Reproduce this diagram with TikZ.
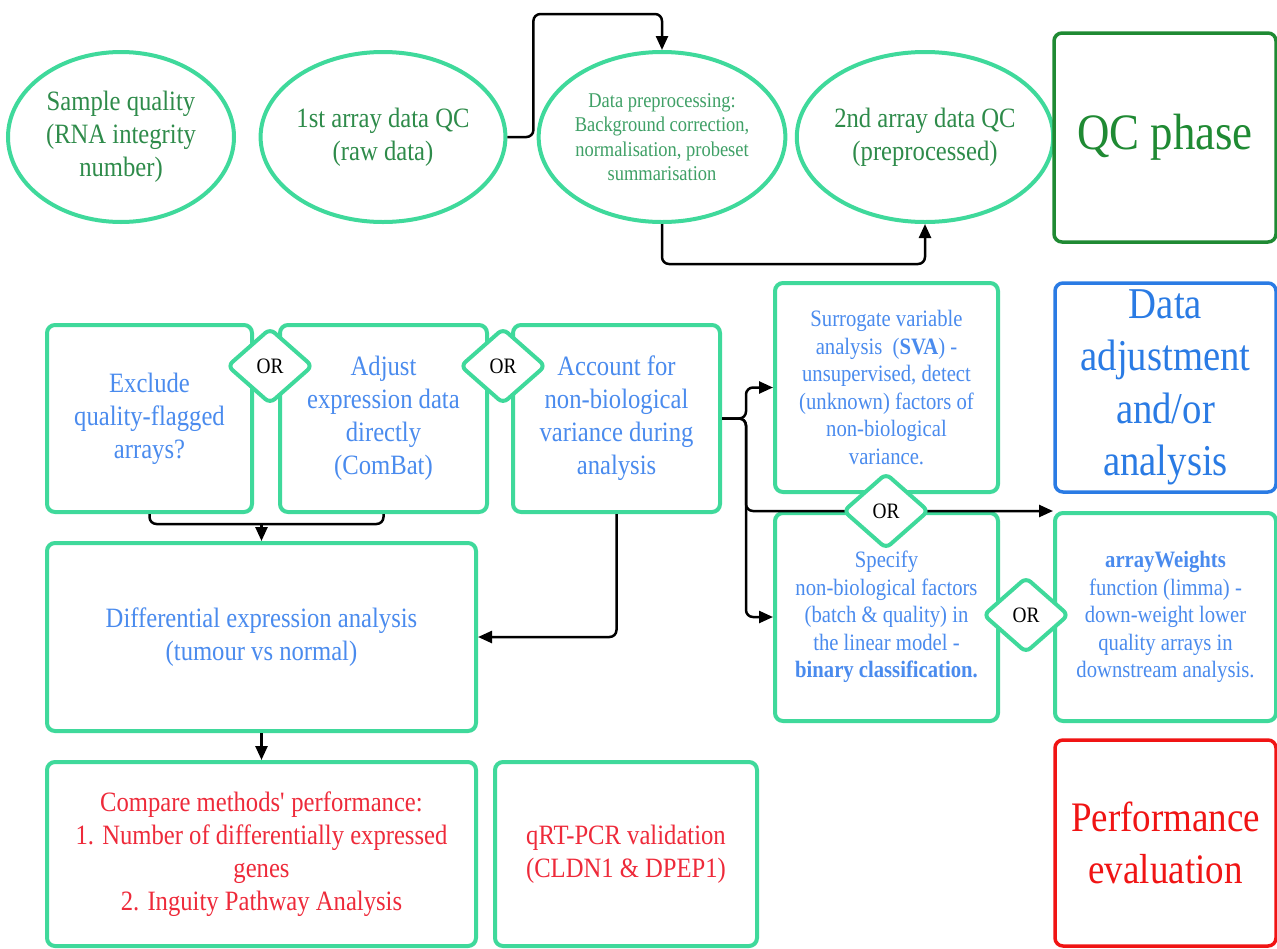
\documentclass[tikz,border=0pt]{standalone}
\usepackage{fontspec}
\setmainfont[FakeStretch=0.88]{Liberation Serif}
\usetikzlibrary{shapes.geometric,arrows.meta}
\definecolor{mint}{HTML}{3FD99B}
\definecolor{egreen}{HTML}{2E8B4A}
\definecolor{lgreen}{HTML}{3FA066}
\definecolor{qcgreen}{HTML}{1F8A33}
\definecolor{tblue}{HTML}{4A8BEE}
\definecolor{dblue}{HTML}{2A7BE4}
\definecolor{tred}{HTML}{EE2A3A}
\definecolor{pred}{HTML}{F01414}
\newcommand\fsz[2]{\fontsize{#1}{#2}\selectfont}
\tikzset{
  ell/.style={ellipse, draw=mint, line width=4pt, fill=white, inner sep=0pt, align=center, text=egreen, font=\fsz{28}{33}},
  bx/.style={rectangle, rounded corners=8pt, draw=mint, line width=4pt, fill=white, inner sep=0pt, align=center, font=\fsz{28}{33}},
  sbx/.style={bx, font=\fsz{23.5}{27.6}, text=tblue},
  ornode/.style={diamond, draw=mint, line width=4pt, fill=white, rounded corners=6pt, inner sep=0pt, minimum width=86pt, minimum height=76pt, font=\fsz{22}{26}},
  phase/.style={rectangle, rounded corners=8pt, line width=3.5pt, fill=white, inner sep=0pt, align=center},
  conn/.style={line width=2.5pt, rounded corners=7pt},
  arr/.style={conn, -{Triangle[length=14pt,width=12pt]}}
}
\begin{document}
\begin{tikzpicture}[x=1pt,y=-1pt]
\useasboundingbox (0,0) rectangle (1277,948);
% top row
\node[ell, minimum width=226pt, minimum height=170pt] (E1) at (121,137) {Sample quality\\(RNA integrity\\number)};
\node[ell, minimum width=226pt, minimum height=170pt] (E2) at (383,137) {1st array data QC\\(raw data)};
\node[ell, minimum width=228pt, minimum height=170pt, text=lgreen, font=\fsz{21}{24.4}] (E3) at (662,137) {Data preprocessing:\\Background correction,\\normalisation, probeset\\summarisation};
\node[ell, minimum width=226pt, minimum height=170pt] (E4) at (925,137) {2nd array data QC\\(preprocessed)};
\node[phase, draw=qcgreen, text=qcgreen, font=\fsz{51}{60}, minimum width=222pt, minimum height=209pt] (QC) at (1165,137.5) {QC phase};
% middle
\node[bx, text=tblue, minimum width=205pt, minimum height=187pt] (A) at (149.5,418.5) {Exclude\\quality-flagged\\arrays?};
\node[bx, text=tblue, minimum width=207pt, minimum height=187pt] (B) at (383.5,418.5) {Adjust\\expression data\\directly\\(ComBat)};
\node[bx, text=tblue, minimum width=207pt, minimum height=187pt] (C) at (616.5,418.5) {Account for\\non-biological\\variance during\\analysis};
\node[bx, text=tblue, minimum width=429pt, minimum height=188pt] (D) at (261.5,637) {Differential expression analysis\\(tumour vs normal)};
\node[sbx, minimum width=223pt, minimum height=209pt] (G) at (886.5,387.5) {Surrogate variable\\analysis~ (\textbf{SVA}) -\\unsupervised, detect\\(unknown) factors of\\non-biological\\variance.};
\node[phase, draw=dblue, text=dblue, font=\fsz{44}{52.5}, minimum width=221pt, minimum height=209pt] (DA) at (1165.5,387.5) {Data\\adjustment\\and/or\\analysis};
\node[sbx, minimum width=223pt, minimum height=208pt] (H) at (886.5,617) {Specify\\non-biological factors\\(batch \& quality) in\\the linear model -\\\textbf{binary classification.}};
\node[sbx, minimum width=221pt, minimum height=208pt] (I) at (1165.5,617) {\textbf{arrayWeights}\\function (limma) -\\down-weight lower\\quality arrays in\\downstream analysis.};
% bottom
\node[bx, text=tred, minimum width=429pt, minimum height=184pt] (E) at (261.5,854) {Compare methods\textquotesingle{} performance:\\1. Number of differentially expressed\\genes\\2. Inguity Pathway Analysis};
\node[bx, text=tred, minimum width=262pt, minimum height=184pt] (F) at (626,854) {qRT-PCR validation\\(CLDN1 \& DPEP1)};
\node[phase, draw=pred, text=pred, font=\fsz{42}{52}, minimum width=221pt, minimum height=206pt] (PE) at (1165.5,843) {Performance\\evaluation};
% connectors
\coordinate (t1) at (662,14);
\draw[arr] (E2.east) -- ++(26,0) |- (t1) -- (E3.north);
\draw[arr] (E3.south) -- ++(0,40) -| (E4.south);
\coordinate (m1) at (261.5,524);
\draw[conn] (A.south) |- (m1) -| (B.south);
\draw[arr] (m1) -- (D.north);
\draw[arr] (C.south) |- (D.east);
\draw[arr] (D.south) -- (E.north);
\coordinate (br) at (746,418.5);
\draw[arr] (C.east) -- (br) |- (G.west);
\draw[arr] (C.east) -- (br) |- (H.west);
\draw[arr] (C.east) -- (br) |- (I.north west);
% OR diamonds
\node[ornode] (O1) at (270,366) {OR};
\node[ornode] (O2) at (503,366) {OR};
\node[ornode] (O3) at (886,511) {OR};
\node[ornode] (O4) at (1026,615) {OR};
\end{tikzpicture}
\end{document}
